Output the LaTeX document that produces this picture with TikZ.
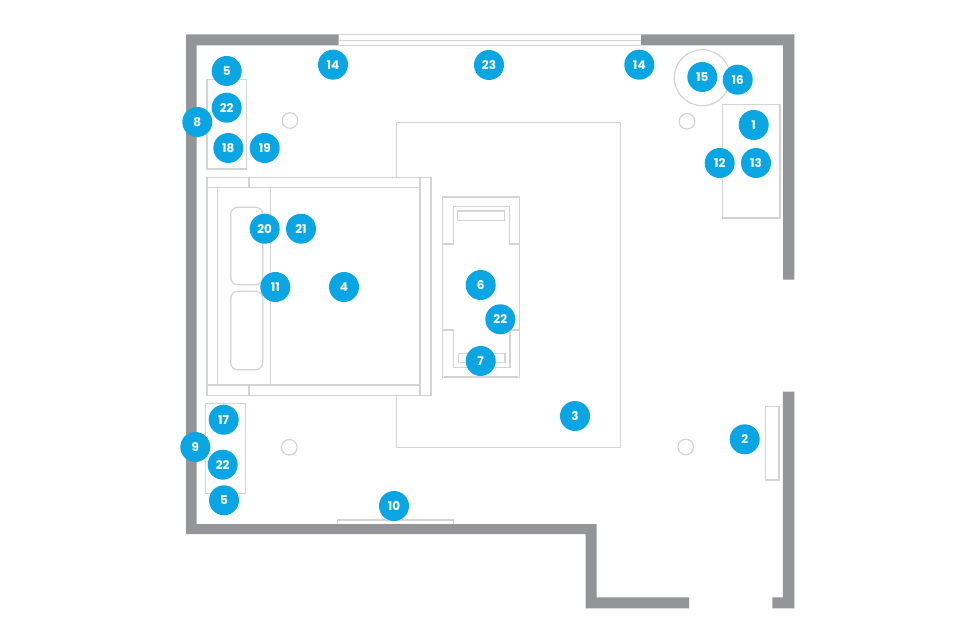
\documentclass[tikz,border=0pt]{standalone}
\usepackage{fontspec}
\setmainfont{Poppins}
\definecolor{wallc}{HTML}{939598}
\definecolor{linec}{HTML}{D3D3D4}
\definecolor{badgec}{HTML}{0AA6E3}
\tikzset{
  wall/.style={fill=wallc,draw=none},
  furn/.style={draw=linec,line width=1.2pt,fill=white},
  thin line/.style={draw=linec,line width=1.2pt},
  badge/.style={circle,fill=badgec,draw=none,text=white,minimum size=30pt,inner sep=0pt,font=\bfseries\fontsize{12}{14}\selectfont}
}
\begin{document}
\begin{tikzpicture}[x=1pt,y=-1pt]
\useasboundingbox (0,0) rectangle (960,639);
\fill[white] (0,0) rectangle (960,639);
% walls
\fill[wall] (338.5,34.3) -- (186,34.3) -- (186,534) -- (585.7,534) -- (585.7,608.3) -- (689,608.3) -- (689,597.3) -- (596.7,597.3) -- (596.7,524) -- (196.5,524) -- (196.5,45.5) -- (338.5,45.5) -- cycle;
\fill[wall] (641,34.3) -- (794.4,34.3) -- (794.4,279.5) -- (783,279.5) -- (783,45.5) -- (641,45.5) -- cycle;
\fill[wall] (782.8,391.7) -- (794.4,391.7) -- (794.4,608.3) -- (772.3,608.3) -- (772.3,597.3) -- (782.8,597.3) -- cycle;
% window
\draw[thin line] (338.5,34.6) -- (641,34.6) (338.5,40.7) -- (641,40.7) (338.5,45.4) -- (641,45.4);
% rug
\draw[furn] (396.3,122.5) rectangle (620.3,447.3);
% bed
\draw[furn] (207,177.4) rectangle (431,395.7);
\draw[thin line] (207,187.7) -- (420,187.7) (207,385) -- (420,385) (420,177.4) -- (420,395.7);
\draw[thin line] (249,177.4) -- (249,187.7) (249,385) -- (249,395.7);
\draw[thin line] (217.7,187.7) -- (217.7,385) (270.3,187.7) -- (270.3,385);
\draw[furn,rounded corners=7pt] (230.7,207.3) rectangle (262.7,284.7);
\draw[furn,rounded corners=7pt] (230.7,291.3) rectangle (262.7,369.7);
% bench
\draw[furn] (442.7,197) rectangle (519.3,377.7);
\draw[thin line] (442.7,244) -- (453.3,244) -- (453.3,206.7) -- (509.3,206.7) -- (509.3,244) -- (519.3,244);
\draw[thin line] (457.3,211) rectangle (504.7,220.3);
\draw[thin line] (442.7,330) -- (453.3,330) -- (453.3,367.7) -- (510,367.7) -- (510,330) -- (519.3,330);
\draw[thin line] (458.3,353.3) rectangle (505,362.7);
\draw[thin line] (444,376.4) -- (518,376.4);
% side tables and furniture
\draw[furn] (207,79.3) rectangle (246.3,169);
\draw[furn] (205.3,403.3) rectangle (245.3,493.3);
\draw[furn] (722.7,104.3) rectangle (780,218);
\draw[furn] (765.7,406.3) rectangle (779,480);
\draw[thin line] (337.7,524) -- (337.7,520) -- (453.7,520) -- (453.7,524);
\draw[furn] (702.3,77.7) circle (28);
\draw[furn] (290,120.5) circle (7.8);
\draw[furn] (289.3,447.3) circle (7.8);
\draw[furn] (687,121.3) circle (7.8);
\draw[furn] (685.7,447) circle (7.8);
% badges
\node[badge] (b5a) at (226.7,71) {5};
\node[badge] (b22a) at (226.7,107.7) {22};
\node[badge] (b8) at (197.3,122) {8};
\node[badge] (b18) at (228.3,148) {18};
\node[badge] (b19) at (264.7,148) {19};
\node[badge] (b14a) at (333,64.7) {14};
\node[badge] (b23) at (489,65) {23};
\node[badge] (b14b) at (639.3,64.7) {14};
\node[badge] (b15) at (702.3,77) {15};
\node[badge] (b16) at (737.7,79.7) {16};
\node[badge] (b1) at (753.7,125) {1};
\node[badge] (b12) at (719.7,163) {12};
\node[badge] (b13) at (756,163) {13};
\node[badge] (b20) at (264.7,228.7) {20};
\node[badge] (b21) at (301,228.7) {21};
\node[badge] (b11) at (275.3,287) {11};
\node[badge] (b4) at (344,287) {4};
\node[badge] (b6) at (480.7,285) {6};
\node[badge] (b22b) at (500.3,319.3) {22};
\node[badge] (b7) at (480.7,361) {7};
\node[badge] (b3) at (575,416) {3};
\node[badge] (b2) at (744.7,439.3) {2};
\node[badge] (b17) at (223.7,419.7) {17};
\node[badge] (b9) at (195.3,447) {9};
\node[badge] (b22c) at (222.7,464.7) {22};
\node[badge] (b5b) at (224,500.3) {5};
\node[badge] (b10) at (394,506) {10};
\end{tikzpicture}
\end{document}
